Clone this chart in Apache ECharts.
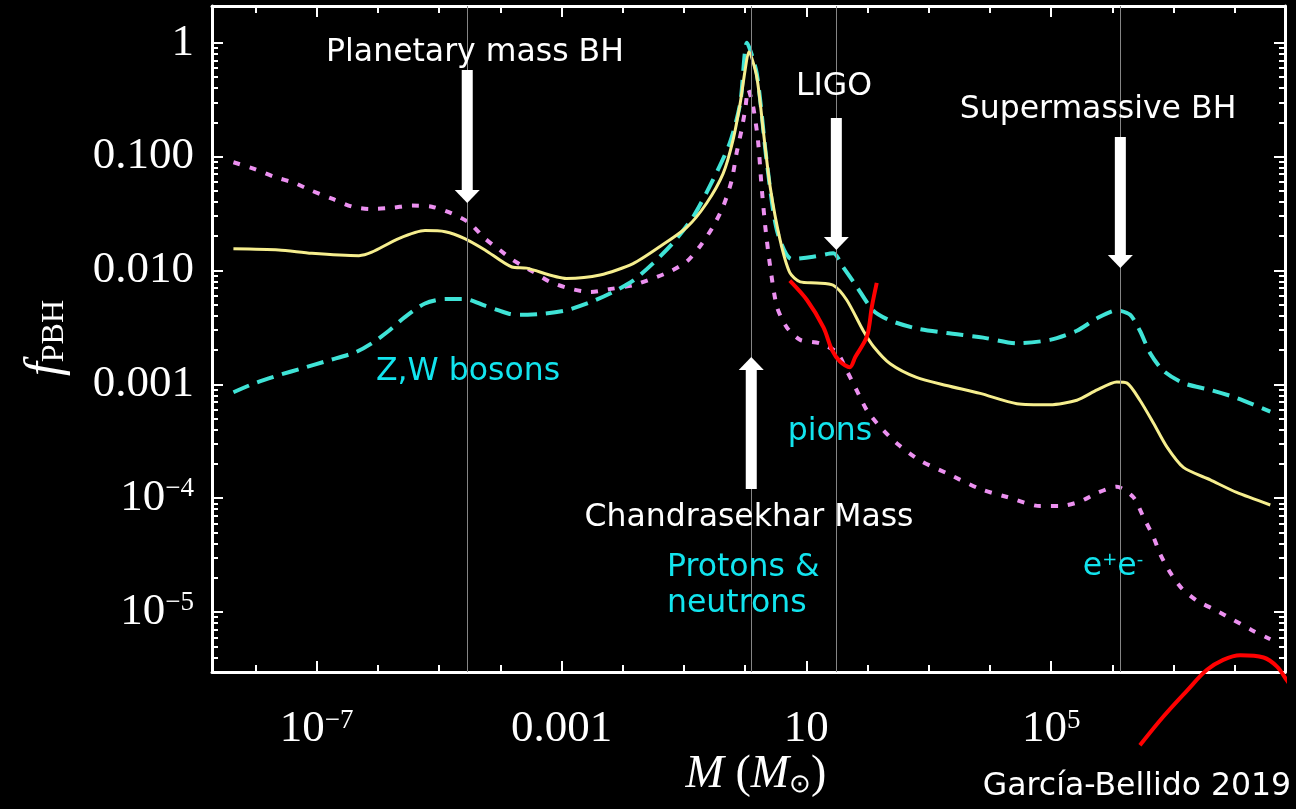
<!DOCTYPE html>
<html>
<head>
<meta charset="utf-8">
<title>f_PBH vs M</title>
<script src="https://cdn.jsdelivr.net/npm/echarts@6.0.0/dist/echarts.min.js"></script>
<style>
html, body { margin: 0; padding: 0; background: #000; }
#chart { width: 1296px; height: 809px; }
</style>
</head>
<body>
<div id="chart"></div>
<script>
// everything is log10: x = log10(M / Msun), y = log10(f_PBH)
var yellowLogM = [-8.36, -7.62, -7.08, -6.31, -6.10, -5.66, -5.23, -4.90, -4.58, -4.25, -3.81, -3.57, -2.92, -2.37, -1.83, -1.39, -0.95, -0.63, -0.36, -0.20, -0.08, 0.00, 0.06, 0.19, 0.30, 0.41, 0.57, 0.73, 0.90, 1.17, 1.44, 1.66, 1.93, 2.10, 2.37, 2.80, 3.29, 3.84, 4.44, 4.98, 5.42, 5.75, 6.07, 6.24, 6.45, 6.67, 6.89, 7.16, 7.60, 8.03, 8.58];
var yellowLogF = [-1.81, -1.82, -1.85, -1.87, -1.84, -1.72, -1.65, -1.66, -1.72, -1.82, -1.97, -1.98, -2.07, -2.04, -1.94, -1.79, -1.62, -1.41, -1.15, -0.86, -0.53, -0.24, -0.08, -0.30, -0.79, -1.27, -1.73, -2.02, -2.10, -2.11, -2.13, -2.26, -2.53, -2.67, -2.82, -2.94, -3.01, -3.08, -3.17, -3.18, -3.14, -3.05, -2.98, -2.99, -3.14, -3.34, -3.55, -3.73, -3.84, -3.95, -4.06];

var cyanLogM = [-8.36, -8.01, -7.62, -7.24, -6.80, -6.37, -6.10, -5.82, -5.56, -5.23, -4.90, -4.58, -4.25, -3.86, -3.68, -3.30, -2.92, -2.53, -2.16, -1.83, -1.51, -1.18, -0.85, -0.53, -0.25, -0.08, 0.03, 0.19, 0.35, 0.52, 0.76, 1.11, 1.44, 1.60, 1.82, 2.09, 2.37, 2.80, 3.29, 3.89, 4.44, 4.98, 5.42, 5.75, 6.07, 6.29, 6.45, 6.62, 6.83, 7.16, 7.60, 8.03, 8.58];
var cyanLogF = [-3.07, -2.99, -2.92, -2.86, -2.79, -2.72, -2.64, -2.53, -2.41, -2.29, -2.25, -2.25, -2.31, -2.38, -2.39, -2.38, -2.35, -2.28, -2.19, -2.09, -1.94, -1.76, -1.53, -1.21, -0.88, -0.53, 0.00, -0.27, -1.03, -1.65, -1.90, -1.88, -1.85, -1.97, -2.14, -2.35, -2.44, -2.51, -2.55, -2.59, -2.64, -2.61, -2.53, -2.42, -2.35, -2.39, -2.53, -2.73, -2.88, -2.99, -3.05, -3.12, -3.24];

var violetLogM = [-8.36, -8.01, -7.68, -7.37, -7.08, -6.75, -6.42, -6.13, -5.77, -5.44, -5.12, -4.79, -4.51, -4.25, -4.01, -3.79, -3.47, -3.19, -2.86, -2.53, -2.16, -1.83, -1.51, -1.23, -0.95, -0.74, -0.53, -0.36, -0.22, -0.14, -0.06, 0.00, 0.05, 0.13, 0.21, 0.27, 0.33, 0.41, 0.52, 0.68, 0.90, 1.22, 1.50, 1.66, 1.82, 1.99, 2.20, 2.48, 2.86, 3.29, 3.84, 4.28, 4.82, 5.15, 5.47, 5.77, 6.07, 6.34, 6.51, 6.67, 6.78, 6.94, 7.13, 7.38, 7.71, 7.98, 8.28, 8.58];
var violetLogF = [-1.05, -1.11, -1.18, -1.23, -1.30, -1.37, -1.44, -1.46, -1.45, -1.43, -1.44, -1.50, -1.58, -1.72, -1.82, -1.91, -2.01, -2.10, -2.16, -2.19, -2.16, -2.13, -2.07, -2.01, -1.92, -1.79, -1.62, -1.44, -1.21, -0.97, -0.77, -0.59, -0.41, -0.56, -0.86, -1.27, -1.62, -1.97, -2.32, -2.50, -2.61, -2.64, -2.72, -2.88, -3.05, -3.23, -3.37, -3.52, -3.67, -3.78, -3.92, -3.99, -4.07, -4.07, -4.03, -3.95, -3.90, -3.99, -4.17, -4.34, -4.49, -4.65, -4.79, -4.90, -4.99, -5.07, -5.16, -5.24];

// hand drawn red constraints
var ligoLogM = [0.73, 1.01, 1.28, 1.42, 1.55, 1.71, 1.80, 1.99, 2.07, 2.15];
var ligoLogF = [-2.09, -2.26, -2.50, -2.70, -2.80, -2.85, -2.76, -2.58, -2.32, -2.11];
var smbhLogM = [6.45, 6.83, 7.22, 7.54, 7.81, 8.09, 8.47, 8.69, 8.85, 9.00];
var smbhLogF = [-6.17, -5.92, -5.69, -5.51, -5.42, -5.38, -5.40, -5.48, -5.60, -5.71];

// thin grey verticals: planetary, Chandrasekhar, LIGO, supermassive
var markerLogM = [-4.54, 0.10, 1.49, 6.13];

var xLabelValues = [-7, -3, 1, 5];
var xLabelTexts = ['10{s|−7}', '0.001', '10', '10{s|5}'];
var yLabelValues = [-5, -4, -3, -2, -1, 0];
var yLabelTexts = ['10{s|−5}', '10{s|−4}', '0.001', '0.010', '0.100', '1'];

var X_MIN = -8.71, X_MAX = 8.82;
var Y_MIN = -5.527, Y_MAX = 0.3225;

function pairs(xs, ys) {
    var out = [];
    for (var i = 0; i < xs.length; i++) out.push([xs[i], ys[i]]);
    return out;
}

var xMinor = [];
for (var d = -8; d <= 8; d++) {
    if (xLabelValues.indexOf(d) < 0) xMinor.push(d);
}
var yMinor = [];
for (var e = -6; e <= 0; e++) {
    for (var k = 2; k <= 9; k++) {
        var v = e + Math.log10(k);
        if (v > Y_MIN && v < Y_MAX - 0.05) yMinor.push(v);
    }
}

var serif = '"Liberation Serif", "Times New Roman", serif';
var sans = '"DejaVu Sans", Verdana, sans-serif';
var white = '#ffffff';
var cyanText = '#12e4ee';

function labelFmt(values, texts) {
    return function (val) {
        for (var i = 0; i < values.length; i++) {
            if (Math.abs(values[i] - val) < 1e-6) return texts[i];
        }
        return '';
    };
}

function makeAxis(pos, min, max, ticks, len, line, label) {
    return {
        type: 'value',
        position: pos,
        min: min,
        max: max,
        axisLine: { show: line, onZero: false, lineStyle: { color: white, width: 3 } },
        axisTick: { show: true, inside: true, length: len, customValues: ticks, lineStyle: { color: white, width: 2 } },
        axisLabel: label || { show: false },
        splitLine: { show: false },
        minorTick: { show: false }
    };
}

var xLabel = {
    show: true,
    customValues: xLabelValues,
    formatter: labelFmt(xLabelValues, xLabelTexts),
    color: white,
    fontFamily: serif,
    fontSize: 45,
    margin: 35,
    rich: { s: { fontSize: 27, fontFamily: serif, color: white, verticalAlign: 'top' } }
};
var yLabel = {
    show: true,
    customValues: yLabelValues,
    formatter: labelFmt(yLabelValues, yLabelTexts),
    color: white,
    fontFamily: serif,
    fontSize: 45,
    margin: 18,
    rich: { s: { fontSize: 27, fontFamily: serif, color: white, verticalAlign: 'top' } }
};

var chart = echarts.init(document.getElementById('chart'));

var option = {
    backgroundColor: '#000',
    animation: false,
    grid: { left: 212, right: 11, top: 6, bottom: 137, containLabel: false, outerBoundsMode: 'none' },
    xAxis: [
        makeAxis('bottom', X_MIN, X_MAX, xLabelValues, 11, true, xLabel),
        makeAxis('bottom', X_MIN, X_MAX, xMinor, 7, false),
        makeAxis('top', X_MIN, X_MAX, xLabelValues, 11, true),
        makeAxis('top', X_MIN, X_MAX, xMinor, 7, false)
    ],
    yAxis: [
        makeAxis('left', Y_MIN, Y_MAX, yLabelValues, 11, true, yLabel),
        makeAxis('left', Y_MIN, Y_MAX, yMinor, 6, false),
        makeAxis('right', Y_MIN, Y_MAX, yLabelValues, 11, true),
        makeAxis('right', Y_MIN, Y_MAX, yMinor, 6, false)
    ],
    series: [
        {
            type: 'line',
            data: [],
            z: 1,
            silent: true,
            markLine: {
                silent: true,
                symbol: ['none', 'none'],
                label: { show: false },
                lineStyle: { color: '#858585', width: 1, type: 'solid' },
                data: markerLogM.map(function (m) { return { xAxis: m }; })
            }
        },
        {
            name: 'violet',
            type: 'line',
            z: 3,
            data: pairs(violetLogM, violetLogF),
            showSymbol: false,
            smooth: 0.25,
            lineStyle: { color: '#ec90f0', width: 4, type: [7, 10], cap: 'butt' }
        },
        {
            name: 'cyan',
            type: 'line',
            z: 3,
            data: pairs(cyanLogM, cyanLogF),
            showSymbol: false,
            smooth: 0.25,
            lineStyle: { color: '#3fe3d6', width: 4, type: [17, 9], cap: 'butt' }
        },
        {
            name: 'yellow',
            type: 'line',
            z: 4,
            data: pairs(yellowLogM, yellowLogF),
            showSymbol: false,
            smooth: 0.25,
            lineStyle: { color: '#f6ee8e', width: 3 }
        },
        {
            name: 'ligo',
            type: 'line',
            z: 5,
            clip: false,
            data: pairs(ligoLogM, ligoLogF),
            showSymbol: false,
            smooth: 0.3,
            lineStyle: { color: '#ff0000', width: 4 }
        },
        {
            name: 'smbh',
            type: 'line',
            z: 5,
            clip: false,
            data: pairs(smbhLogM, smbhLogF),
            showSymbol: false,
            smooth: 0.35,
            lineStyle: { color: '#ff0000', width: 4 }
        }
    ]
};
chart.setOption(option);

function xPix(logM) {
    return chart.convertToPixel({ xAxisIndex: 0 }, logM);
}

function arrow(x, yTail, yTip) {
    var head = 13, halfHead = 12.5, halfShaft = 5.5;
    var dir = yTip > yTail ? 1 : -1;
    var base = yTip - dir * head;
    return {
        type: 'group',
        z: 20,
        children: [
            {
                type: 'rect',
                z: 20,
                shape: { x: x - halfShaft, y: Math.min(yTail, base), width: halfShaft * 2, height: Math.abs(base - yTail) + 1 },
                style: { fill: white }
            },
            {
                type: 'polygon',
                z: 20,
                shape: { points: [[x - halfHead, base], [x + halfHead, base], [x, yTip]] },
                style: { fill: white }
            }
        ]
    };
}

function txt(x, y, s, color, size, align, rich) {
    return {
        type: 'text',
        x: x,
        y: y,
        z: 20,
        style: {
            text: s,
            fill: color,
            font: size + 'px ' + sans,
            align: align || 'center',
            verticalAlign: 'middle',
            rich: rich
        }
    };
}

var graphics = [
    arrow(xPix(markerLogM[0]), 70, 203),
    arrow(xPix(markerLogM[1]), 488, 357),
    arrow(xPix(markerLogM[2]), 118, 250),
    arrow(xPix(markerLogM[3]), 137, 268),
    txt(475, 53, 'Planetary mass BH', white, 31.5),
    txt(834, 87, 'LIGO', white, 31.5),
    txt(1098, 110, 'Supermassive BH', white, 31.5),
    txt(749, 518, 'Chandrasekhar Mass', white, 31.5),
    txt(468, 372, 'Z,W bosons', cyanText, 31.5),
    txt(830, 432, 'pions', cyanText, 31.5),
    txt(667, 568, 'Protons &', cyanText, 31.5, 'left'),
    txt(667, 604, 'neutrons', cyanText, 31.5, 'left'),
    txt(1113, 567, 'e{s|+}e{s|-}', cyanText, 31.5, 'center', {
        s: { fontSize: 18, fontFamily: sans, fill: cyanText, verticalAlign: 'top' }
    }),
    txt(1137, 787, 'García-Bellido 2019', white, 31.5),
    {
        type: 'text',
        x: 46,
        y: 338,
        z: 20,
        rotation: Math.PI / 2,
        style: {
            text: '{f|f}{p|PBH}',
            align: 'center',
            verticalAlign: 'middle',
            rich: {
                f: { font: 'italic 50px ' + serif, fill: white },
                p: { font: '32px ' + serif, fill: white, verticalAlign: 'bottom' }
            }
        }
    },
    {
        type: 'text',
        x: 756,
        y: 775,
        z: 20,
        style: {
            text: '{m|M} ({m|M}{o|⊙})',
            fill: white,
            font: '46px ' + serif,
            align: 'center',
            verticalAlign: 'middle',
            rich: {
                m: { font: 'italic 46px ' + serif, fill: white },
                o: { font: '26px ' + serif, fill: white, verticalAlign: 'bottom' }
            }
        }
    }
];

chart.setOption({ graphic: graphics });
</script>
</body>
</html>
